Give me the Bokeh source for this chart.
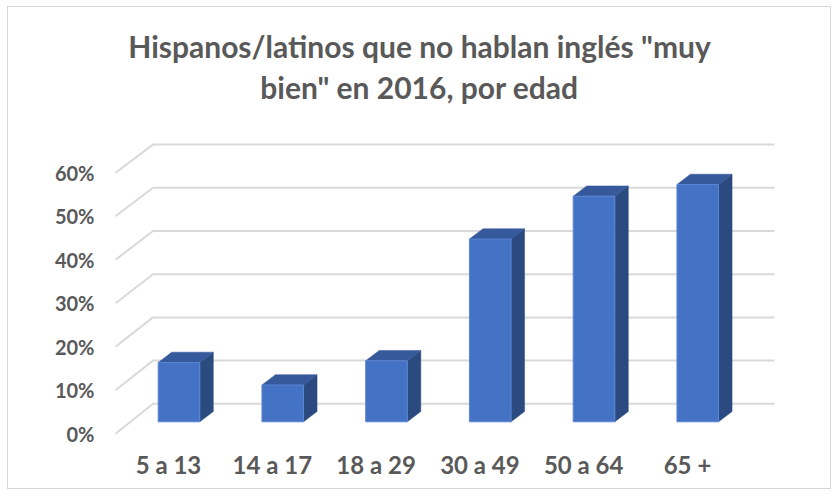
from bokeh.plotting import figure
from bokeh.models import Range1d, LinearAxis, FixedTicker, ColumnDataSource
from bokeh.core.properties import value
from bokeh.embed import file_html
from bokeh.resources import INLINE

# ---------------- data ----------------
categories = ["5 a 13", "14 a 17", "18 a 29", "30 a 49", "50 a 64", "65 +"]
shares = [0.137, 0.085, 0.141, 0.422, 0.521, 0.548]
tick_values = [0.0, 0.1, 0.2, 0.3, 0.4, 0.5, 0.6]
tick_labels = ["0%", "10%", "20%", "30%", "40%", "50%", "60%"]
title_lines = ['Hispanos/latinos que no hablan inglés "muy', 'bien" en 2016, por edad']

# ---------------- layout (window pixels) ----------------
ORG_X, ORG_Y = 8, 7          # canvas origin inside the window (after margin + border)
W, H = 824, 483
FRAME_L, FRAME_R, FRAME_T, FRAME_B = 112, 776, 7, 440
BAR0_PX, BAR_STEP_PX = 178.5, 103.75   # bar centre positions
BASE_PX, Y_SCALE_PX = 421.3, 433.0     # bar baseline / px per unit
BAR_W_PX, DEPTH_DX_PX, DEPTH_DY_PX = 41.6, 13.5, 10.3
GRID_FRONT_X, GRID_BACK_X, GRID_END_X = 115, 152.5, 774
GRID_FRONT_Y0, GRID_FRONT_SCALE = 433.3, 435.0
GRID_BACK_Y0, GRID_BACK_SCALE = 403.3, 432.0
LAB0_PX, LAB_STEP_PX = 168.0, 103.8
TITLE_X_PX, TITLE_Y_PX, TITLE_LINE_PX = 419, 45, 41

TXT = "#595959"
FONT = value("Lato")


def px_x(px):
    return (px - BAR0_PX) / BAR_STEP_PX


def px_y(py):
    return (BASE_PX - py) / Y_SCALE_PX


p = figure(width=W, height=H, output_backend="svg", toolbar_location=None,
           x_range=Range1d(px_x(FRAME_L), px_x(FRAME_R)),
           y_range=Range1d(px_y(FRAME_B), px_y(FRAME_T)),
           x_axis_location=None, y_axis_location=None,
           min_border_left=FRAME_L - ORG_X, min_border_right=W - (FRAME_R - ORG_X),
           min_border_top=FRAME_T - ORG_Y, min_border_bottom=H - (FRAME_B - ORG_Y))
p.outline_line_color = None
p.background_fill_color = "white"
p.border_fill_color = "white"
p.xgrid.visible = False
p.ygrid.visible = False
p.styles = {"margin-left": "7px", "margin-top": "6px", "border": "1px solid #d6d6d6"}

# extra ranges for the front (label) plane
p.extra_y_ranges = {"front": Range1d((GRID_FRONT_Y0 - FRAME_B) / GRID_FRONT_SCALE,
                                     (GRID_FRONT_Y0 - FRAME_T) / GRID_FRONT_SCALE)}
p.extra_x_ranges = {"lab": Range1d((FRAME_L - LAB0_PX) / LAB_STEP_PX,
                                   (FRAME_R - LAB0_PX) / LAB_STEP_PX)}

# ---------------- gridlines (3D back wall + diagonal) ----------------
gxs, gys = [], []
for t in tick_values:
    fy = GRID_FRONT_Y0 - GRID_FRONT_SCALE * t
    by = GRID_BACK_Y0 - GRID_BACK_SCALE * t
    gxs.append([px_x(GRID_FRONT_X), px_x(GRID_BACK_X), px_x(GRID_END_X)])
    gys.append([px_y(fy), px_y(by), px_y(by)])
p.multi_line(xs=gxs, ys=gys, line_color="#d9d9d9", line_width=2)

# ---------------- 3D bars ----------------
idx = list(range(len(categories)))
bw = BAR_W_PX / BAR_STEP_PX
dx = DEPTH_DX_PX / BAR_STEP_PX
dy = DEPTH_DY_PX / Y_SCALE_PX

side_xs, side_ys, top_xs, top_ys = [], [], [], []
for i, v in zip(idx, shares):
    x0, x1 = i - bw / 2, i + bw / 2
    side_xs.append([x1, x1, x1 + dx, x1 + dx])
    side_ys.append([0, v, v + dy, dy])
    top_xs.append([x0, x1, x1 + dx, x0 + dx])
    top_ys.append([v, v, v + dy, v + dy])

p.patches(xs=side_xs, ys=side_ys, fill_color="#2B4A7F", line_color="#2B4A7F", line_width=0.5)
p.patches(xs=top_xs, ys=top_ys, fill_color="#35599B", line_color="#35599B", line_width=0.5)
src = ColumnDataSource(dict(x=idx, top=shares))
p.vbar(x="x", top="top", bottom=0, width=bw, source=src,
       fill_color="#4472C4", line_color="#5B86D2", line_width=1)

# ---------------- axes ----------------
yax = LinearAxis(y_range_name="front", ticker=FixedTicker(ticks=tick_values),
                 major_label_overrides={t: l for t, l in zip(tick_values, tick_labels)})
yax.axis_line_color = None
yax.major_tick_line_color = None
yax.minor_tick_line_color = None
yax.major_label_standoff = 12
yax.major_label_text_font = "Lato"
yax.major_label_text_font_style = "bold"
yax.major_label_text_font_size = "20px"
yax.major_label_text_color = TXT
p.add_layout(yax, "left")

xax = LinearAxis(x_range_name="lab", ticker=FixedTicker(ticks=idx),
                 major_label_overrides={i: c for i, c in zip(idx, categories)})
xax.axis_line_color = None
xax.major_tick_line_color = None
xax.minor_tick_line_color = None
xax.major_label_standoff = 3
xax.major_label_text_font = "Lato"
xax.major_label_text_font_style = "bold"
xax.major_label_text_font_size = "24px"
xax.major_label_text_color = TXT
p.add_layout(xax, "below")

# ---------------- title ----------------
p.text(x=[px_x(TITLE_X_PX)] * 2,
       y=[px_y(TITLE_Y_PX), px_y(TITLE_Y_PX + TITLE_LINE_PX)],
       text=title_lines, text_align="center", text_baseline="alphabetic",
       text_font=FONT, text_font_style="bold", text_font_size="30px",
       text_color=TXT)

open("out.html", "w").write(file_html(p, INLINE))
